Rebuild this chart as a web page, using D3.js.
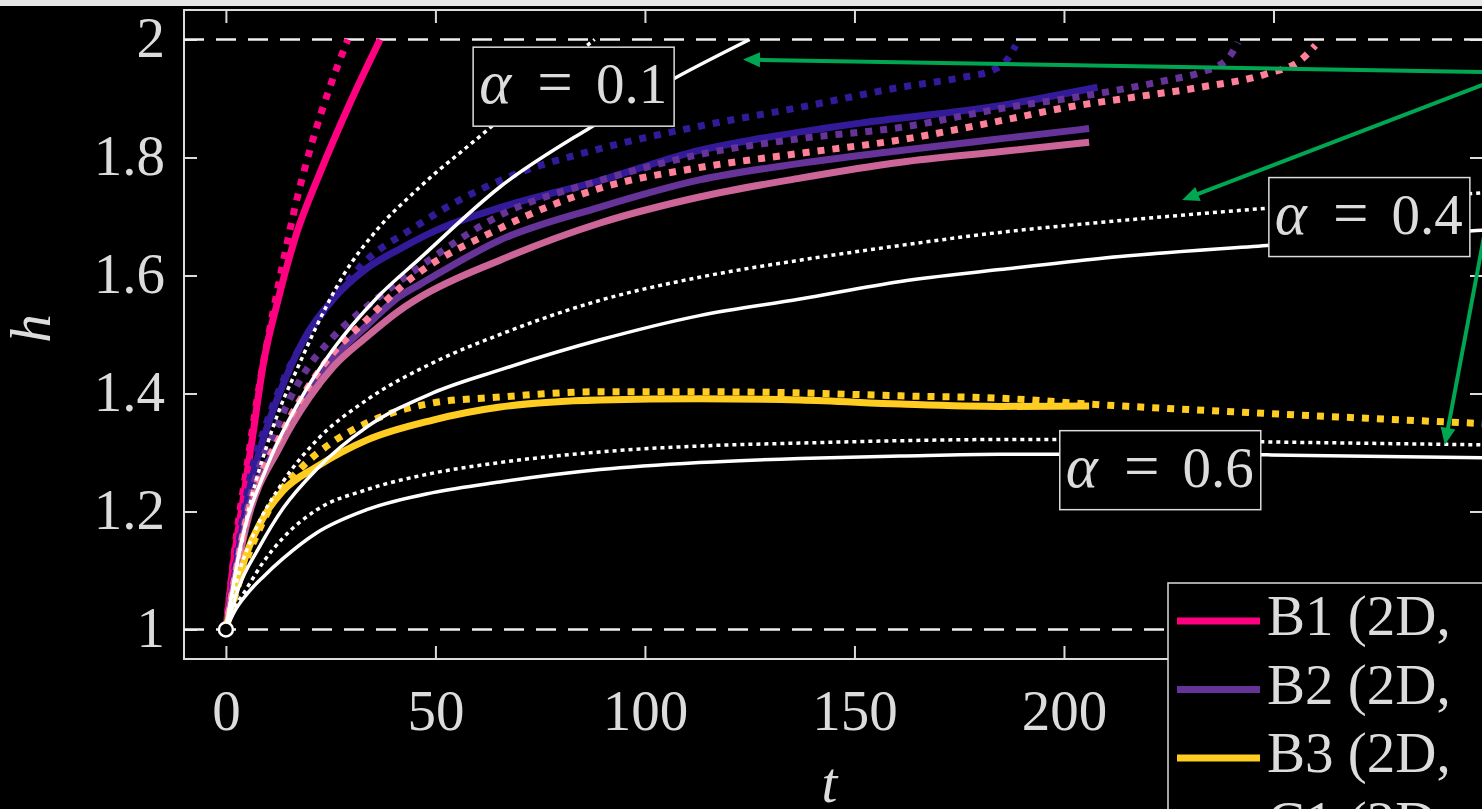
<!DOCTYPE html>
<html><head><meta charset="utf-8">
<script src="https://cdn.jsdelivr.net/npm/d3@7"></script>
<style>html,body{margin:0;padding:0;background:#000;overflow:hidden}</style>
</head><body>
<svg id="chart" width="1482" height="809"></svg>
<script>
// ---------- data ----------
const xTicks = [0, 50, 100, 150, 200, 250, 300];
const xTickLabels = ["0", "50", "100", "150", "200", "", ""]; // 250 and 300 are hidden behind the legend
const yTicks = [1, 1.2, 1.4, 1.6, 1.8, 2];
const yTickLabels = ["1", "1.2", "1.4", "1.6", "1.8", "2"];
const refLevels = [1, 2];

// [t, h] pairs
const b1Solid = [[0,1],[1.7,1.107],[4.1,1.22],[6.5,1.333],[8.8,1.445],[12.5,1.56],[16.9,1.672],[22.4,1.773],[29.6,1.892],[36.8,2.0]];
const b1Dotted = [[0,1],[2.6,1.164],[5,1.276],[7.4,1.389],[11.2,1.536],[13.4,1.614],[16.9,1.728],[20.5,1.824],[24.8,1.919],[29.1,2.0]];
const c1Solid = [[0,1],[2.5,1.11],[5.7,1.24],[9.7,1.34],[14.5,1.43],[19.3,1.50],[25.6,1.56],[33.6,1.612],[41.5,1.645],[50,1.676],[65.4,1.715],[89.3,1.761],[113,1.812],[125,1.829],[150,1.857],[184.7,1.888],[208,1.919]];
const c1Dotted = [[0,1],[2.5,1.12],[5.7,1.255],[9.7,1.35],[14.5,1.435],[20,1.505],[25.6,1.56],[33.6,1.626],[44.6,1.68],[55,1.725],[67.8,1.768],[89.3,1.815],[113,1.853],[137,1.885],[161,1.919],[175,1.935],[183,1.948],[186,1.962],[188.5,1.99]];
const b2Solid = [[0,1],[5,1.19],[12.9,1.32],[20,1.41],[25.6,1.46],[33.6,1.515],[41.5,1.565],[46.3,1.585],[65.4,1.66],[89.3,1.716],[113,1.762],[137,1.79],[161,1.812],[185,1.832],[206,1.849]];
const b2Dotted = [[0,1],[5,1.2],[12.9,1.355],[17.7,1.423],[25.6,1.496],[33.6,1.547],[46.3,1.615],[65.4,1.702],[89.3,1.761],[113,1.805],[137,1.832],[161,1.851],[185,1.883],[208.6,1.909],[224.6,1.931],[232.5,1.944],[238.9,1.966],[241.5,1.995]];
const c2Solid = [[0,1],[5,1.18],[12.9,1.31],[20,1.394],[25.6,1.445],[33.6,1.496],[41.5,1.541],[46.3,1.563],[65.4,1.626],[89.3,1.689],[113,1.733],[137,1.765],[161,1.792],[185,1.81],[206,1.826]];
const c2Dotted = [[0,1],[5,1.19],[12.9,1.327],[17.7,1.389],[25.6,1.469],[33.6,1.525],[42.3,1.584],[65.4,1.68],[89.3,1.748],[113,1.783],[137,1.807],[161,1.83],[184.7,1.862],[200.7,1.885],[216.5,1.902],[232.5,1.919],[248.4,1.942],[256.3,1.964],[260,1.99]];
const b3Solid = [[0,1],[5,1.13],[9.8,1.2],[13.6,1.235],[21.7,1.276],[33.6,1.321],[49.4,1.355],[65.4,1.377],[89.3,1.389],[113,1.391],[137,1.389],[161,1.382],[184.7,1.378],[206,1.379]];
const b3Dotted = [[0,1],[5,1.12],[8,1.17],[11.2,1.215],[17.7,1.272],[25.5,1.318],[33.6,1.35],[49.4,1.384],[65.4,1.394],[89.3,1.403],[113,1.403],[137,1.401],[161,1.396],[184.7,1.392],[208.6,1.381],[240.3,1.369],[272.3,1.358],[300,1.349]];
const a01Solid = [[0,1],[3.3,1.135],[9.8,1.276],[17.7,1.389],[25.5,1.474],[36,1.562],[46.3,1.629],[65.4,1.75],[87,1.851],[107,1.934],[125,2.0]];
const a01Dotted = [[0,1],[3,1.12],[6,1.22],[9.7,1.31],[12.9,1.375],[16.9,1.44],[21.7,1.515],[28,1.6],[36,1.677],[46.3,1.75],[62.3,1.846],[75,1.925],[88,2.0]];
const a04Solid = [[0,1],[3,1.07],[8,1.14],[13.6,1.205],[21.7,1.272],[33.6,1.343],[49.4,1.401],[65.4,1.44],[89.3,1.491],[113,1.532],[137,1.56],[161,1.59],[184.7,1.61],[208.6,1.629],[248.4,1.651],[300,1.677]];
const a04Dotted = [[0,1],[3.3,1.1],[6.5,1.16],[13.6,1.25],[21.7,1.321],[33.6,1.389],[49.4,1.452],[65.4,1.5],[89.3,1.558],[113,1.597],[137,1.626],[161,1.651],[184.7,1.673],[208.6,1.69],[224.6,1.7],[248.4,1.714],[275,1.728],[300,1.74]];
const a06Solid = [[0,1],[2,1.03],[5,1.06],[9,1.09],[13.6,1.12],[21.7,1.164],[33.6,1.203],[49.4,1.232],[65.4,1.25],[89.3,1.271],[113,1.283],[137,1.29],[161,1.294],[184.7,1.297],[210,1.297],[248.4,1.296],[300,1.291]];
const a06Dotted = [[0,1],[2,1.035],[5,1.07],[9,1.115],[13.6,1.155],[21.7,1.203],[33.6,1.237],[49.4,1.265],[65.4,1.283],[89.3,1.301],[113,1.311],[137,1.316],[161,1.32],[184.7,1.322],[210,1.322],[248,1.318],[300,1.313]];

const legendNames = ["B1 (2D,", "B2 (2D,", "B3 (2D,", "C1 (2D,"];
const alphaValues = ["0.1", "0.4", "0.6"];
const alphaBoxAnchors = [[59, 1.987], [248.9, 1.766], [199, 1.337]]; // [t, h] of box top-left
const arrowOrigin = [307.6, 1.944];
const arrowTips = [[123.4, 1.966], [228.2, 1.728], [290.9, 1.313]];

// ---------- styling ----------
const PINK = "#ff0080", INDIGO = "#331a99", PURPLE = "#663399", ROSE = "#cc6699", SALMON = "#ff8099", GOLD = "#ffcc22", WHITE = "#ffffff", GREEN = "#00a651";
const FG = "#dcdcdc";
const FONT = "'Liberation Serif','DejaVu Serif',serif";
const FS = 57;

const colored = [
  {d: b1Solid, c: PINK, dot: false}, {d: b1Dotted, c: PINK, dot: true},
  {d: c1Solid, c: INDIGO, dot: false}, {d: c1Dotted, c: INDIGO, dot: true},
  {d: b2Solid, c: PURPLE, dot: false}, {d: b2Dotted, c: PURPLE, dot: true},
  {d: c2Solid, c: ROSE, dot: false}, {d: c2Dotted, c: SALMON, dot: true},
  {d: b3Solid, c: GOLD, dot: false}, {d: b3Dotted, c: GOLD, dot: true}
];
const whites = [
  {d: a01Solid, dot: false}, {d: a01Dotted, dot: true},
  {d: a04Solid, dot: false}, {d: a04Dotted, dot: true},
  {d: a06Solid, dot: false}, {d: a06Dotted, dot: true}
];
const legendColors = [PINK, PURPLE, GOLD, INDIGO];

// ---------- drawing ----------
const svg = d3.select("#chart");
const L = 184, R = 1483, T = 10, B = 659;
const x = d3.scaleLinear().domain([-10, 300]).range([L, R]);
const y = d3.scaleLinear().domain([0.95, 2.05]).range([B, T]);

svg.append("rect").attr("x", 0).attr("y", 0).attr("width", 1482).attr("height", 809).attr("fill", "#000");
svg.append("rect").attr("x", 0).attr("y", 0).attr("width", 1482).attr("height", 6).attr("fill", "#e6e6e6");

svg.append("defs").append("clipPath").attr("id", "clip")
  .append("rect").attr("x", L).attr("y", T).attr("width", R - L).attr("height", B - T);

// axes box
const axG = svg.append("g");
axG.append("rect").attr("x", L).attr("y", T).attr("width", R - L).attr("height", B - T)
  .attr("fill", "none").attr("stroke", FG).attr("stroke-width", 2);

const xb = axG.append("g").attr("transform", `translate(0,${B})`)
  .call(d3.axisBottom(x).tickValues(xTicks).tickSize(-13).tickFormat((d, i) => xTickLabels[i]).tickPadding(58));
const xt = axG.append("g").attr("transform", `translate(0,${T})`)
  .call(d3.axisTop(x).tickValues(xTicks).tickSize(-13).tickFormat(""));
const yl = axG.append("g").attr("transform", `translate(${L},0)`)
  .call(d3.axisLeft(y).tickValues(yTicks).tickSize(-13).tickFormat((d, i) => yTickLabels[i]).tickPadding(19));
const yr = axG.append("g").attr("transform", `translate(${R},0)`)
  .call(d3.axisRight(y).tickValues(yTicks).tickSize(-13).tickFormat(""));
[xb, xt, yl, yr].forEach(g => {
  g.select(".domain").remove();
  g.selectAll(".tick line").attr("stroke", FG).attr("stroke-width", 2);
  g.selectAll(".tick text").attr("fill", FG).attr("font-family", FONT).attr("font-size", FS);
});
xb.selectAll(".tick text").attr("dy", null).attr("y", 71);
xb.selectAll(".tick text").filter(function () { return this.textContent === ""; }).remove();
yl.selectAll(".tick text").attr("dy", null).attr("y", 17);

// axis labels
svg.append("text").attr("x", x(144)).attr("y", 802).attr("text-anchor", "middle")
  .attr("font-family", FONT).attr("font-style", "italic").attr("font-size", FS).attr("fill", FG).text("t");
svg.append("text").attr("transform", `translate(50,${y(1.51)}) rotate(-90)`).attr("text-anchor", "middle")
  .attr("font-family", FONT).attr("font-style", "italic").attr("font-size", FS).attr("fill", FG).text("h");

const plot = svg.append("g").attr("clip-path", "url(#clip)");

// reference dashed lines
plot.selectAll("line.ref").data(refLevels).join("line").attr("class", "ref")
  .attr("x1", L).attr("x2", R).attr("y1", d => y(d)).attr("y2", d => y(d))
  .attr("stroke", "#f0f0f0").attr("stroke-width", 2.5).attr("stroke-dasharray", "20 12");

const line = d3.line().x(d => x(d[0])).y(d => y(d[1])).curve(d3.curveMonotoneX);

plot.selectAll("path.col").data(colored).join("path").attr("class", "col")
  .attr("d", s => line(s.d)).attr("fill", "none").attr("stroke", s => s.c)
  .attr("stroke-width", 7).attr("stroke-linecap", "butt").attr("stroke-linejoin", "round")
  .attr("stroke-dasharray", s => s.dot ? "7 8" : null);

plot.selectAll("path.wht").data(whites).join("path").attr("class", "wht")
  .attr("d", s => line(s.d)).attr("fill", "none").attr("stroke", WHITE)
  .attr("stroke-width", 3.5).attr("stroke-linecap", "butt")
  .attr("stroke-dasharray", s => s.dot ? "4 4" : null);

// origin marker
svg.append("circle").attr("cx", x(0)).attr("cy", y(1)).attr("r", 7)
  .attr("fill", "#000").attr("stroke", WHITE).attr("stroke-width", 2.5);

// alpha label boxes
const BW = 201, BH = 79;
alphaValues.forEach((a, i) => {
  const bx = x(alphaBoxAnchors[i][0]), by = y(alphaBoxAnchors[i][1]);
  const g = svg.append("g");
  g.append("rect").attr("x", bx).attr("y", by).attr("width", BW).attr("height", BH)
    .attr("fill", "#000").attr("stroke", FG).attr("stroke-width", 1.5);
  const base = by + 56;
  g.append("text").attr("x", bx + 6).attr("y", base).attr("font-family", FONT).attr("font-style", "italic")
    .attr("font-size", FS + 4).attr("fill", FG).text("α");
  g.append("text").attr("x", bx + 82).attr("y", base).attr("text-anchor", "middle").attr("font-family", FONT)
    .attr("font-size", FS + 6).attr("fill", FG).text("=");
  g.append("text").attr("x", bx + 194).attr("y", base).attr("text-anchor", "end").attr("font-family", FONT)
    .attr("font-size", FS).attr("fill", FG).text(a);
});

// green arrows
const ox = x(arrowOrigin[0]), oy = y(arrowOrigin[1]);
arrowTips.forEach(tp => {
  const tx = x(tp[0]), ty = y(tp[1]);
  const ang = Math.atan2(ty - oy, tx - ox);
  const hl = 17, hw = 7.5;
  const bxp = tx - hl * Math.cos(ang), byp = ty - hl * Math.sin(ang);
  svg.append("line").attr("x1", ox).attr("y1", oy).attr("x2", bxp + 2 * Math.cos(ang)).attr("y2", byp + 2 * Math.sin(ang))
    .attr("stroke", GREEN).attr("stroke-width", 4);
  const p1 = [bxp + hw * Math.sin(ang), byp - hw * Math.cos(ang)];
  const p2 = [bxp - hw * Math.sin(ang), byp + hw * Math.cos(ang)];
  svg.append("path").attr("d", `M${tx},${ty}L${p1[0]},${p1[1]}L${p2[0]},${p2[1]}Z`).attr("fill", GREEN);
});

// legend
const lg = svg.append("g");
lg.append("rect").attr("x", 1168).attr("y", 583).attr("width", 400).attr("height", 320)
  .attr("fill", "#000").attr("stroke", FG).attr("stroke-width", 1.5);
legendNames.forEach((n, i) => {
  const ly = 621 + i * 68.5;
  lg.append("line").attr("x1", 1177).attr("x2", 1260).attr("y1", ly).attr("y2", ly)
    .attr("stroke", legendColors[i]).attr("stroke-width", 7);
  lg.append("text").attr("x", 1267).attr("y", ly + 14).attr("font-family", FONT).attr("font-size", FS)
    .attr("fill", FG).text(n);
});
</script>
</body></html>
